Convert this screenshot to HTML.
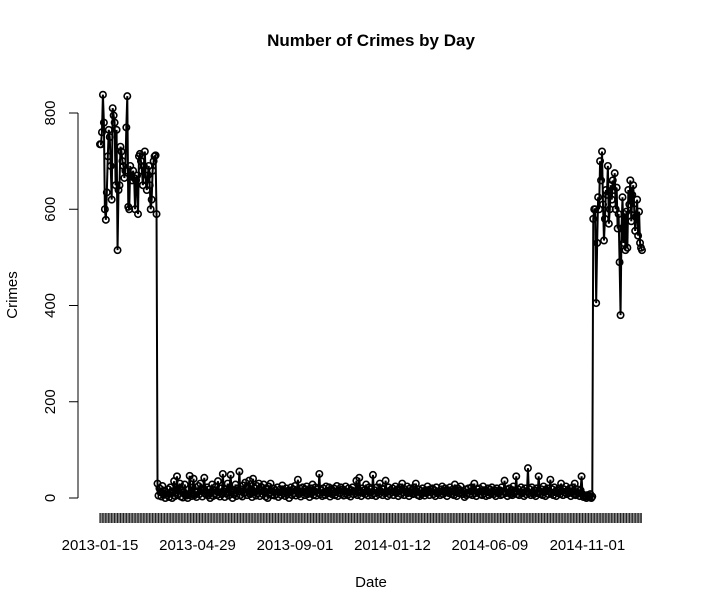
<!DOCTYPE html>
<html><head><meta charset="utf-8"><style>
body{margin:0;background:#fff}
svg{display:block;font-family:"Liberation Sans",sans-serif}
</style></head><body>
<svg id="chart" width="704" height="613" viewBox="0 0 704 613">
<text x="371" y="46" text-anchor="middle" font-size="17" font-weight="bold">Number of Crimes by Day</text>
<text x="371" y="587" text-anchor="middle" font-size="15">Date</text>
<text transform="translate(17,295) rotate(-90)" text-anchor="middle" font-size="15">Crimes</text>
<g id="yaxis"></g>
<g id="xaxis"></g>
<g id="series"></g>
</svg>
<script>
const yTicks=[0,200,400,600,800];
const xLabels=["2013-01-15","2013-04-29","2013-09-01","2014-01-12","2014-06-09","2014-11-01"];
const xLabelIdx=[0,100,200,300,400,500];
const startVals=[735,735,760,838,780,600,578,635,710,765,750,690,620,810,795,780,650,765,515,640,650,730,720,700,690,665,680,770,835,605,600,690,670,660,680,665,600,660,670,590,710,715,700,680,650,690,720,660,640,670,690,650,600,620,680,700,710,712,590];
const midVals=[30,5,20,12,3,25,8,15,0,10,
6,18,2,22,9,0,14,35,4,11,
45,7,20,30,3,16,1,12,28,8,
5,0,18,46,10,4,22,40,6,14,
2,12,25,8,30,15,3,20,42,10,
7,22,5,18,0,12,28,4,16,9,
24,6,35,12,3,20,8,50,14,2,
18,10,30,5,22,48,12,0,16,8,
28,4,20,14,55,6,18,3,26,10,
32,12,6,22,36,8,15,2,40,12,
20,5,25,10,30,4,16,22,8,28,
12,3,18,0,24,10,30,6,14,20,
5,16,8,22,2,12,18,6,26,10,
14,4,20,8,15,0,12,22,6,18,
10,25,5,16,38,8,20,3,14,22,
12,6,18,24,8,15,2,20,10,28,
6,14,22,5,18,10,50,8,16,4,
20,12,6,24,15,10,22,3,18,8,
14,20,6,12,25,4,16,10,22,8,
18,5,14,24,10,6,20,12,3,16,
22,8,14,10,36,6,18,42,12,4,
20,10,16,8,28,14,5,22,12,18,
6,48,10,16,4,22,12,8,30,14,
20,6,18,10,36,12,4,22,8,16,
12,20,6,14,24,10,18,4,16,22,
8,30,12,6,18,14,24,10,4,20,
12,16,8,22,10,30,14,6,18,4,
15,8,20,12,5,16,10,24,14,6,
18,12,20,8,16,4,22,10,10,14,
6,18,24,8,12,20,15,4,16,10,
22,14,8,18,6,28,12,4,20,10,
16,24,12,8,14,2,18,6,10,20,
8,14,22,6,16,30,10,4,18,12,
20,8,14,6,24,10,16,4,12,20,
6,18,10,22,14,8,16,4,20,12,
10,16,6,22,8,14,36,10,18,4,
12,20,8,16,6,24,10,14,45,8,
18,6,12,22,10,16,4,20,8,14,
62,10,18,6,22,12,8,16,4,20,
10,45,14,8,18,6,24,12,4,16,
20,8,14,38,10,18,6,22,12,4,
16,10,20,8,30,14,6,18,12,24,
8,16,10,20,4,14,22,8,30,6,
12,18,10,4,16,45,8,2,5,3,
0,6,4,2,8,0,3];
const endVals=[580,600,600,405,530,625,600,700,660,720,610,535,580,640,630,690,570,600,650,620,660,640,675,600,645,560,590,490,380,560,625,530,590,515,595,520,640,610,660,575,630,650,600,555,585,620,545,595,530,520,515];
const values=startVals.concat(midVals,endVals);
const NS="http://www.w3.org/2000/svg";
const x0=100,x1=642,yBase=498,yTop=113;
const n=values.length;
function xs(i){return x0+(x1-x0)*i/(n-1);}
function ys(v){return yBase-(yBase-yTop)*v/800;}
function mk(tag,attrs,parent){const e=document.createElementNS(NS,tag);for(const k in attrs)e.setAttribute(k,attrs[k]);parent.appendChild(e);return e;}
const ya=document.getElementById('yaxis');
const yl=mk('line',{x1:78,x2:78,y1:ys(0),y2:ys(800),stroke:'#000'},ya);


yTicks.forEach(t=>{
  const tk=mk('line',{x1:69,x2:78,y1:ys(t),y2:ys(t),stroke:'#000'},ya);
  
  
  const tx=mk('text',{transform:`translate(55,${ys(t)}) rotate(-90)`,'text-anchor':'middle','font-size':15},ya);
  tx.textContent=t;
  
  
});
const xa=document.getElementById('xaxis');
const bar=mk('rect',{x:xs(0),y:513,width:xs(n-1)-xs(0),height:10,fill:'#8a8a8a'},xa);


for(let i=0;i<n;i+=3){
  const tk=mk('line',{x1:xs(i),x2:xs(i),y1:513,y2:523,stroke:'#222','stroke-width':1.2},xa);
  
  
}
xLabels.forEach((lab,k)=>{
  const tx=mk('text',{x:xs(xLabelIdx[k]),y:550,'text-anchor':'middle','font-size':15},xa);
  tx.textContent=lab;
  
  
});
const sg=document.getElementById('series');
const pts=values.map((v,i)=>xs(i).toFixed(2)+','+ys(v).toFixed(2)).join(' ');
const pl=mk('polyline',{points:pts,fill:'none',stroke:'#000','stroke-width':2},sg);


values.forEach((v,i)=>{
  const c=mk('circle',{cx:xs(i),cy:ys(v),r:3.2,fill:'none',stroke:'#000','stroke-width':1.6},sg);
  
  
});
</script>
</body></html>
